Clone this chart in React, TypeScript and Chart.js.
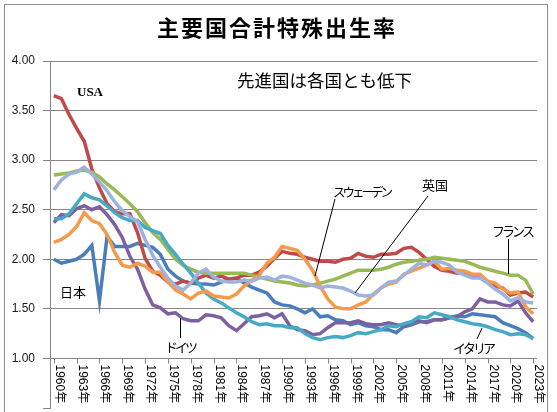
import { useEffect, useRef } from 'react';
import { Chart, registerables } from 'chart.js';

Chart.register(...registerables);

const years = [
  1960, 1961, 1962, 1963, 1964, 1965, 1966, 1967, 1968, 1969,
  1970, 1971, 1972, 1973, 1974, 1975, 1976, 1977, 1978, 1979,
  1980, 1981, 1982, 1983, 1984, 1985, 1986, 1987, 1988, 1989,
  1990, 1991, 1992, 1993, 1994, 1995, 1996, 1997, 1998, 1999,
  2000, 2001, 2002, 2003, 2004, 2005, 2006, 2007, 2008, 2009,
  2010, 2011, 2012, 2013, 2014, 2015, 2016, 2017, 2018, 2019,
  2020, 2021, 2022, 2023,
];

const tickYears = [
  1960, 1963, 1966, 1969, 1972, 1975, 1978, 1981, 1984, 1987, 1990,
  1993, 1996, 1999, 2002, 2005, 2008, 2011, 2014, 2017, 2020, 2023,
];

const yTicks = [0.5, 1.0, 1.5, 2.0, 2.5, 3.0, 3.5, 4.0];

const japan = [
  2.00, 1.96, 1.98, 2.00, 2.05, 2.14, 1.58, 2.23, 2.13, 2.13,
  2.13, 2.16, 2.14, 2.12, 2.05, 1.90, 1.83, 1.78, 1.76, 1.75,
  1.75, 1.74, 1.77, 1.80, 1.81, 1.76, 1.72, 1.69, 1.66, 1.57,
  1.54, 1.53, 1.50, 1.46, 1.50, 1.42, 1.43, 1.39, 1.38, 1.34,
  1.36, 1.33, 1.32, 1.29, 1.29, 1.26, 1.32, 1.34, 1.37, 1.37,
  1.39, 1.39, 1.41, 1.43, 1.42, 1.45, 1.44, 1.43, 1.42, 1.36,
  1.33, 1.30, 1.26, 1.20,
];

const usa = [
  3.65, 3.62, 3.46, 3.32, 3.19, 2.91, 2.72, 2.56, 2.48, 2.46,
  2.46, 2.27, 2.01, 1.88, 1.84, 1.77, 1.75, 1.78, 1.76, 1.81,
  1.84, 1.81, 1.83, 1.80, 1.81, 1.84, 1.84, 1.87, 1.93, 2.01,
  2.08, 2.06, 2.05, 2.02, 2.00, 1.98, 1.98, 1.97, 2.00, 2.01,
  2.06, 2.03, 2.02, 2.05, 2.05, 2.06, 2.11, 2.12, 2.07, 2.00,
  1.93, 1.89, 1.88, 1.86, 1.86, 1.84, 1.82, 1.77, 1.73, 1.71,
  1.64, 1.66, 1.67, 1.62,
];

const france = [
  2.85, 2.86, 2.87, 2.89, 2.90, 2.88, 2.83, 2.76, 2.70, 2.63,
  2.56, 2.48, 2.37, 2.27, 2.20, 2.10, 2.00, 1.94, 1.90, 1.87,
  1.86, 1.86, 1.86, 1.86, 1.86, 1.86, 1.84, 1.82, 1.80, 1.78,
  1.77, 1.76, 1.74, 1.73, 1.74, 1.76, 1.78, 1.80, 1.83, 1.86,
  1.89, 1.89, 1.89, 1.90, 1.92, 1.95, 1.97, 1.98, 1.99, 2.00,
  2.02, 2.01, 2.00, 1.99, 1.98, 1.95, 1.92, 1.90, 1.88, 1.86,
  1.84, 1.84, 1.79, 1.65,
];

const germany = [
  2.37, 2.45, 2.44, 2.51, 2.54, 2.50, 2.53, 2.45, 2.35, 2.22,
  2.03, 1.90, 1.70, 1.54, 1.51, 1.45, 1.46, 1.40, 1.38, 1.38,
  1.44, 1.43, 1.41, 1.33, 1.28, 1.35, 1.42, 1.43, 1.45, 1.41,
  1.45, 1.33, 1.29, 1.28, 1.24, 1.25, 1.31, 1.36, 1.36, 1.36,
  1.38, 1.35, 1.34, 1.34, 1.36, 1.34, 1.33, 1.37, 1.38, 1.36,
  1.39, 1.39, 1.41, 1.42, 1.47, 1.50, 1.60, 1.57, 1.57, 1.54,
  1.53, 1.58, 1.46, 1.37,
];

const italy = [
  2.41, 2.41, 2.46, 2.56, 2.66, 2.62, 2.60, 2.54, 2.47, 2.42,
  2.39, 2.39, 2.32, 2.29, 2.26, 2.14, 2.05, 1.95, 1.86, 1.76,
  1.66, 1.60, 1.56, 1.51, 1.46, 1.42, 1.37, 1.34, 1.35, 1.33,
  1.33, 1.31, 1.31, 1.25, 1.21, 1.19, 1.21, 1.22, 1.21, 1.23,
  1.26, 1.25, 1.27, 1.29, 1.33, 1.32, 1.35, 1.37, 1.42, 1.41,
  1.46, 1.44, 1.42, 1.39, 1.37, 1.35, 1.34, 1.32, 1.29, 1.27,
  1.24, 1.25, 1.24, 1.20,
];

const sweden = [
  2.17, 2.20, 2.25, 2.33, 2.47, 2.39, 2.36, 2.25, 2.07, 1.94,
  1.92, 1.96, 1.93, 1.87, 1.87, 1.77, 1.69, 1.65, 1.60, 1.66,
  1.68, 1.63, 1.62, 1.61, 1.65, 1.73, 1.79, 1.84, 1.96, 2.02,
  2.13, 2.11, 2.09, 2.00, 1.89, 1.73, 1.60, 1.52, 1.50, 1.50,
  1.54, 1.57, 1.65, 1.71, 1.75, 1.77, 1.85, 1.88, 1.91, 1.94,
  1.98, 1.90, 1.91, 1.89, 1.88, 1.85, 1.85, 1.78, 1.76, 1.70,
  1.66, 1.67, 1.52, 1.45,
];

const uk = [
  2.70, 2.80, 2.86, 2.88, 2.93, 2.86, 2.78, 2.69, 2.58, 2.49,
  2.43, 2.38, 2.20, 2.04, 1.92, 1.81, 1.73, 1.69, 1.76, 1.86,
  1.90, 1.82, 1.78, 1.77, 1.77, 1.79, 1.78, 1.81, 1.82, 1.79,
  1.83, 1.82, 1.79, 1.76, 1.74, 1.71, 1.73, 1.72, 1.71, 1.68,
  1.64, 1.63, 1.64, 1.71, 1.77, 1.78, 1.84, 1.90, 1.96, 1.94,
  1.98, 1.97, 1.94, 1.87, 1.84, 1.81, 1.81, 1.76, 1.70, 1.65,
  1.58, 1.61, 1.57, 1.56,
];

const seriesNames = ['日本', 'USA', 'フランス', 'ドイツ', 'イタリア', 'スウェーデン', '英国'];
const seriesData = [japan, usa, france, germany, italy, sweden, uk];
const seriesColors = ['#4A7EBB', '#BE4B48', '#98B954', '#7D60A0', '#46AAC5', '#F59A4A', '#9DB3DD'];

const TITLE = '主要国合計特殊出生率';
const SUBTITLE = '先進国は各国とも低下';

const JP = '"Noto Sans CJK JP", "Noto Sans", sans-serif';

const decoPlugin = {
  id: 'deco',
  beforeDraw(chart: any) {
    const { ctx, width, height } = chart;
    ctx.save();
    ctx.fillStyle = '#ffffff';
    ctx.fillRect(0, 0, width, height);
    ctx.restore();
  },
  afterDraw(chart: any) {
    const ctx = chart.ctx as CanvasRenderingContext2D;
    const xs = chart.scales.x;
    const ys = chart.scales.y;
    ctx.save();

    // outer frame
    ctx.strokeStyle = '#8c8c8c';
    ctx.lineWidth = 1;
    ctx.strokeRect(4.5, 4.5, 543, 430);

    // title
    ctx.fillStyle = '#000';
    ctx.textBaseline = 'middle';
    ctx.textAlign = 'left';
    (ctx as any).letterSpacing = '2px';
    ctx.font = `bold 22px ${JP}`;
    ctx.fillText(TITLE, 157, 28);

    (ctx as any).letterSpacing = '0px';
    ctx.font = `17.5px ${JP}`;
    ctx.fillText(SUBTITLE, 237, 80);

    // x axis ticks & labels
    const axisY = Math.round(ys.getPixelForValue(1)) + 0.5;
    ctx.strokeStyle = '#868686';
    ctx.lineWidth = 1;
    ctx.font = `12px "Liberation Sans", ${JP}`;
    ctx.fillStyle = '#000';
    tickYears.forEach((yr) => {
      const px = Math.round(xs.getPixelForValue(years.indexOf(yr))) + 0.5;
      ctx.beginPath();
      ctx.moveTo(px, axisY);
      ctx.lineTo(px, axisY + 5);
      ctx.stroke();
      ctx.save();
      ctx.translate(px + 5, axisY + 6);
      ctx.rotate(Math.PI / 2);
      ctx.textAlign = 'left';
      ctx.textBaseline = 'middle';
      ctx.fillText(`${yr}年`, 0, 0);
      ctx.restore();
    });

    // annotations
    ctx.fillStyle = '#000';
    ctx.textAlign = 'left';
    ctx.textBaseline = 'middle';
    ctx.font = `bold 13px "Liberation Serif", serif`;
    ctx.fillText(seriesNames[1], 77, 93);

    ctx.font = `13px ${JP}`;
    ctx.fillText(seriesNames[0], 60, 292);
    ctx.fillText(seriesNames[6], 422, 185);

    (ctx as any).letterSpacing = '-3px';
    ctx.font = `13px ${JP}`;
    ctx.fillText(seriesNames[3], 165, 347);
    ctx.fillText(seriesNames[2], 492, 231);
    ctx.fillText(seriesNames[4], 453, 348);
    ctx.font = `12.5px ${JP}`;
    ctx.fillText(seriesNames[5], 333, 192);
    (ctx as any).letterSpacing = '0px';

    // leader lines
    ctx.strokeStyle = '#000';
    ctx.lineWidth = 1;
    const lines = [
      [335, 199, 315, 276],
      [428, 196, 355, 293],
      [508.5, 239, 508.5, 274],
      [477, 339, 482, 328],
      [180.5, 318, 180.5, 338],
    ];
    lines.forEach(([a, b, c, d]) => {
      ctx.beginPath();
      ctx.moveTo(a, b);
      ctx.lineTo(c, d);
      ctx.stroke();
    });

    ctx.restore();
  },
};

export default function App() {
  const ref = useRef<HTMLCanvasElement | null>(null);

  useEffect(() => {
    if (!ref.current) return;
    const chart = new Chart(ref.current, {
      type: 'line',
      data: {
        labels: years.map(String),
        datasets: seriesData.map((d, i) => ({
          label: seriesNames[i],
          data: d,
          borderColor: seriesColors[i],
          backgroundColor: seriesColors[i],
          borderWidth: 3.5,
          pointRadius: 0,
          tension: 0,
          fill: false,
          order: seriesData.length - 1 - i,
        })),
      },
      options: {
        animation: false,
        responsive: false,
        layout: { padding: { top: 61, left: 0, right: 20, bottom: 4 } },
        plugins: {
          legend: { display: false },
          tooltip: { enabled: false },
          title: { display: false },
        },
        scales: {
          x: { type: 'category', display: false, offset: true },
          y: {
            position: 'left',
            min: yTicks[0],
            max: yTicks[yTicks.length - 1],
            afterBuildTicks: (s: any) => {
              s.ticks = yTicks.map((v) => ({ value: v }));
            },
            ticks: {
              padding: 8,
              color: '#1a1a1a',
              font: { family: 'Liberation Sans', size: 12 },
              callback: (v: any) => (Number(v) < 0.75 ? '' : Number(v).toFixed(2)),
            },
            grid: {
              color: (c: any) => (c.tick && c.tick.value < 0.75 ? 'rgba(0,0,0,0)' : '#868686'),
              tickColor: '#868686',
              tickLength: 7,
              lineWidth: 1,
            },
            border: { color: '#868686', width: 1 },
            afterFit: (s: any) => {
              s.width = 50;
              s.paddingTop = 0;
              s.paddingBottom = 0;
            },
          },
        },
      },
      plugins: [decoPlugin],
    } as any);
    return () => chart.destroy();
  }, []);

  return (
    <div style={{ position: 'absolute', left: 0, top: 0, width: 557, height: 412 }}>
      <canvas ref={ref} width={557} height={412} />
    </div>
  );
}
